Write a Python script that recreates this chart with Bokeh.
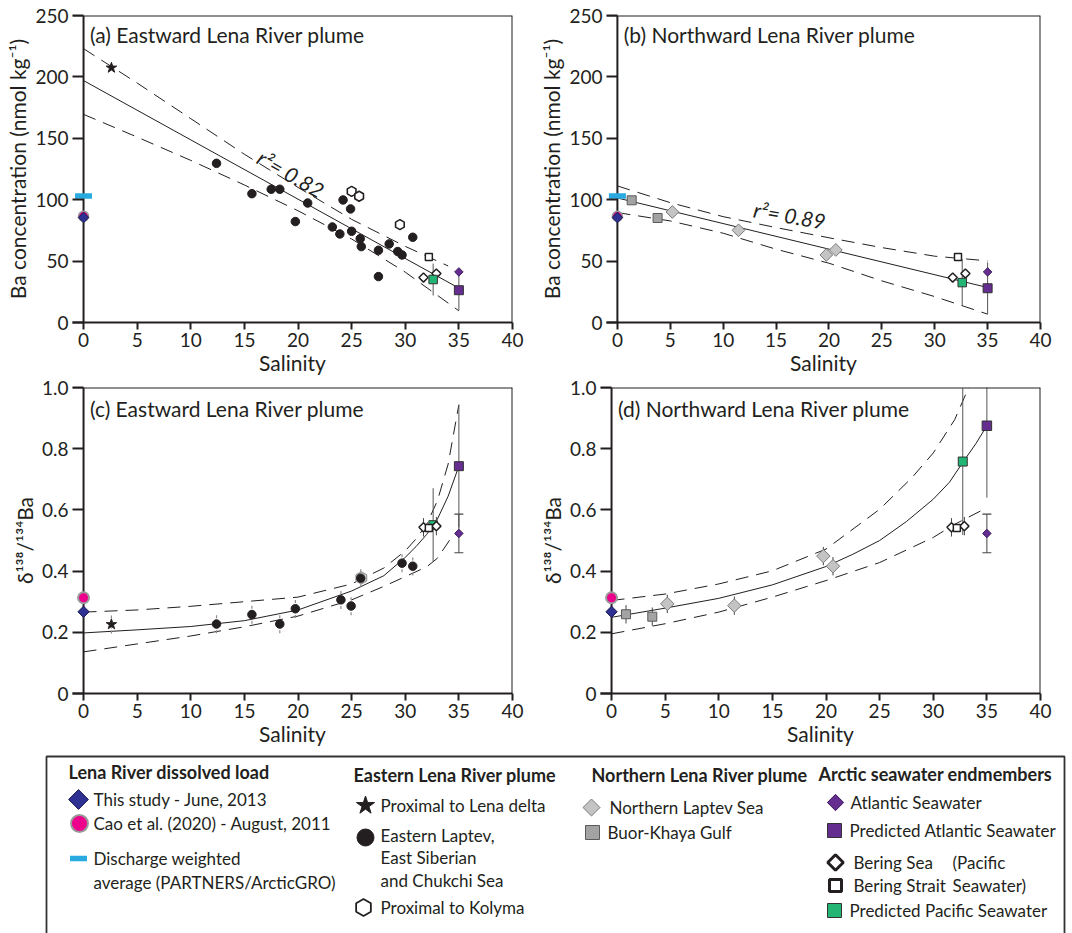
import numpy as np
from bokeh.plotting import figure
from bokeh.models import Range1d, Span, FixedTicker
from bokeh.layouts import column, row
from bokeh.embed import file_html
from bokeh.resources import INLINE
from bokeh.core.properties import value

FONT = "Lato"
INK = "#231f20"

# ---------------- data ----------------
salinity_ticks = [0, 5, 10, 15, 20, 25, 30, 35, 40]
ba_ticks = [0, 50, 100, 150, 200, 250]
delta_ticks = [0.0, 0.2, 0.4, 0.6, 0.8, 1.0]
delta_tick_labels = ["0", "0.2", "0.4", "0.6", "0.8", "1.0"]
panel_titles = ["(a) Eastward Lena River plume", "(b) Northward Lena River plume",
                "(c) Eastward Lena River plume", "(d) Northward Lena River plume"]
r2_labels = ["r\u00b2= 0.82", "r\u00b2= 0.89"]

# Lena River dissolved load (salinity 0)
lena_sal = [0.0]
lena_this_ba = [85.5]
lena_this_delta = [0.267]
lena_cao_ba = [86.5]
lena_cao_delta = [0.313]
lena_discharge_ba = [103.0]

# Eastern plume: proximal to Lena delta (star)
prox_lena_sal = [2.6]
prox_lena_ba = [207.4]
prox_lena_delta = [0.226]
prox_lena_delta_err = [0.03]

# Eastern Laptev, East Siberian and Chukchi Sea (filled circles)
east_ba_sal = [12.4, 15.7, 17.5, 18.3, 19.75, 20.9, 23.2, 23.9, 24.2, 24.9, 25.0,
               25.8, 25.9, 27.5, 27.5, 28.5, 29.3, 29.7, 30.7]
east_ba = [129.6, 104.9, 108.5, 108.5, 82.2, 97.3, 77.8, 72.1, 99.8, 92.5, 74.3,
           68.3, 61.8, 58.8, 37.4, 64.0, 57.8, 55.0, 69.4]
east_delta_sal = [12.4, 15.7, 18.3, 19.75, 24.0, 24.95, 25.85, 29.7, 30.7]
east_delta = [0.227, 0.258, 0.227, 0.277, 0.306, 0.286, 0.377, 0.426, 0.416]
east_delta_err = [0.03, 0.03, 0.03, 0.03, 0.03, 0.03, 0.03, 0.03, 0.03]

# Proximal to Kolyma (open hexagons)
kolyma_ba_sal = [25.0, 25.7, 29.5]
kolyma_ba = [106.8, 102.8, 79.7]
kolyma_delta_sal = [25.9]
kolyma_delta = [0.378]

# Northern plume
nlaptev_sal = [5.2, 11.45, 19.75, 20.65]
nlaptev_ba = [90.0, 75.1, 55.0, 59.1]
nlaptev_delta = [0.293, 0.287, 0.449, 0.416]
nlaptev_delta_err = [0.03, 0.03, 0.03, 0.03]
buor_sal = [1.35, 3.8]
buor_ba = [99.5, 85.1]
buor_delta = [0.259, 0.251]
buor_delta_err = [0.03, 0.03]

# Arctic seawater endmembers
bering_sea_sal = [31.7, 32.9]
bering_sea_ba = [36.6, 39.9]
bering_sea_delta = [0.543, 0.547]
bering_sea_delta_err = [0.03, 0.03]
bering_strait_sal = [32.2]
bering_strait_ba = [53.4]
bering_strait_delta = [0.541]
atlantic_sal = [35.0]
atlantic_ba = [41.2]
atlantic_delta = [0.523]
atlantic_delta_err = [0.063]

pred_pac_east_sal = [32.6]
pred_pac_east_ba = [35.0]
pred_pac_east_ba_err = [13.0]
pred_pac_east_delta = [0.551]
pred_pac_east_delta_err = [0.12]
pred_pac_north_sal = [32.6]
pred_pac_north_ba = [32.5]
pred_pac_north_ba_err = [19.0]
pred_pac_north_delta_sal = [32.75]
pred_pac_north_delta = [0.758]
pred_pac_north_delta_err = [0.24]

pred_atl_sal = [35.0]
pred_atl_east_ba = [26.3]
pred_atl_east_ba_err = [16.5]
pred_atl_east_delta = [0.743]
pred_atl_east_delta_err = [0.2]
pred_atl_north_ba = [27.9]
pred_atl_north_ba_err = [21.0]
pred_atl_north_delta = [0.875]
pred_atl_north_delta_err = [0.235]

# regression / mixing lines
a_fit_sal = [0, 35]
a_fit_ba = [197.0, 28.0]
a_hi_sal = [0, 5, 10, 15, 20, 25, 30, 34]
a_hi_ba = [223.0, 195.0, 166.0, 137.0, 110.0, 84.0, 62.0, 46.0]
a_lo_sal = [0, 5, 10, 15, 20, 25, 30, 35]
a_lo_ba = [169.5, 151.0, 132.0, 112.0, 91.0, 68.0, 41.0, 9.5]

b_fit_sal = [0, 35]
b_fit_ba = [101.4, 28.5]
b_band_sal = [0, 5, 10, 15, 20, 25, 30, 35]
b_hi_ba = [111.2, 97.6, 86.2, 77.3, 69.0, 61.0, 54.0, 50.2]
b_lo_ba = [89.5, 82.7, 72.7, 59.7, 48.3, 33.9, 21.1, 6.8]

c_fit_sal = [0, 5, 10, 15, 20, 25, 28, 30, 31, 32, 33, 34, 35]
c_fit_delta = [0.198, 0.208, 0.219, 0.238, 0.273, 0.335, 0.385, 0.445, 0.48, 0.52, 0.57, 0.645, 0.743]
c_hi_sal = [0, 5, 10, 15, 20, 25, 28, 30, 31, 32, 33, 34, 35]
c_hi_delta = [0.266, 0.273, 0.285, 0.300, 0.315, 0.358, 0.41, 0.466, 0.505, 0.553, 0.63, 0.75, 0.944]
c_lo_sal = [0, 5, 10, 15, 20, 25, 28, 30, 32, 33, 34.4]
c_lo_delta = [0.136, 0.162, 0.188, 0.218, 0.253, 0.306, 0.35, 0.382, 0.414, 0.442, 0.515]

d_fit_sal = [0, 5, 10, 15, 20, 22.5, 25, 27.5, 30, 31.5, 32.75, 34, 35]
d_fit_delta = [0.249, 0.279, 0.311, 0.355, 0.415, 0.455, 0.5, 0.562, 0.635, 0.69, 0.755, 0.818, 0.875]
d_hi_sal = [0, 5, 10, 15, 20, 25, 28, 30, 32, 33.3, 34.2]
d_hi_delta = [0.304, 0.325, 0.358, 0.401, 0.472, 0.602, 0.705, 0.786, 0.895, 1.0, 1.08]
d_lo_sal = [0, 5, 10, 15, 20, 25, 30, 32, 35]
d_lo_delta = [0.195, 0.228, 0.266, 0.315, 0.369, 0.428, 0.51, 0.553, 0.607]

# ---------------- styles ----------------
C_BLUE = "#2e3192"
C_PINK = "#ec008c"
C_CYAN = "#29abe2"
C_GRAY_D = "#c4c4c4"
C_GRAY_S = "#a3a3a3"
C_PURPLE = "#662d91"
C_GREEN = "#22b573"
DASH = "13 8"


def make_panel(width, left, right, height, top, bottom, y_end, y_ticks, y_label):
    p = figure(width=width, height=height, x_range=Range1d(-1.03, 40), y_range=Range1d(0, y_end),
               output_backend="svg", toolbar_location=None,
               min_border_left=left, min_border_right=right, min_border_top=top, min_border_bottom=bottom,
               x_axis_label="Salinity", y_axis_label=y_label)
    p.outline_line_color = None
    p.grid.visible = False
    p.background_fill_color = "white"
    xa = p.xaxis[0]
    xa.ticker = FixedTicker(ticks=salinity_ticks)
    xa.axis_line_width = 2
    xa.axis_line_color = INK
    xa.major_tick_line_width = 2
    xa.major_tick_line_color = INK
    xa.major_tick_out = 7
    xa.major_tick_in = 0
    xa.minor_tick_line_color = None
    ya = p.yaxis[0]
    ya.ticker = FixedTicker(ticks=y_ticks)
    ya.axis_line_color = None
    ya.major_tick_line_width = 2
    ya.major_tick_line_color = INK
    ya.major_tick_in = 11
    ya.major_tick_out = 0
    ya.minor_tick_line_color = None
    for ax in (xa, ya):
        ax.major_label_text_font = FONT
        ax.major_label_text_font_size = "19px"
        ax.major_label_text_color = INK
        ax.axis_label_text_font = FONT
        ax.axis_label_text_font_size = "21px"
        ax.axis_label_text_font_style = "normal"
        ax.axis_label_text_color = INK
    xa.major_label_standoff = 3
    xa.axis_label_standoff = 0
    ya.major_label_standoff = 4
    ya.axis_label_standoff = 2
    p.add_layout(Span(location=0, dimension="height", line_color=INK, line_width=2, level="underlay"))
    p.add_layout(Span(location=40, dimension="height", line_color=INK, line_width=2))
    p.add_layout(Span(location=y_end, dimension="width", line_color=INK, line_width=2))
    return p


def title(p, text, y):
    p.text(x=[0.6], y=[y], text=[text], text_font=value(FONT), text_font_size="21px",
           text_baseline="middle", text_align="left", text_color=INK)


def errbar(p, xs, ys, es, color="#555555", dash="solid", width=1, cap=0):
    p.segment(x0=xs, y0=[y - e for y, e in zip(ys, es)], x1=xs, y1=[y + e for y, e in zip(ys, es)],
              line_color=color, line_width=width, line_dash=dash)
    if cap:
        p.scatter(xs + xs, [y - e for y, e in zip(ys, es)] + [y + e for y, e in zip(ys, es)],
                  marker="dash", size=cap, line_color=color, line_width=1.2)


def diamond(p, xs, ys, size, fill, line, lw=1.0):
    p.scatter(xs, ys, marker="square", angle=np.pi / 4, size=size, fill_color=fill,
              line_color=line, line_width=lw)


def square(p, xs, ys, size, fill, line, lw=1.0):
    p.scatter(xs, ys, marker="square", size=size, fill_color=fill, line_color=line, line_width=lw)


def hexagon(p, xs, ys, size, line, lw):
    p.scatter(xs, ys, marker="hex", angle=np.pi / 6, size=size, fill_color="white",
              line_color=line, line_width=lw)


ba_label = "Ba concentration (nmol kg\u207b\u00b9)"
d_label = "\u03b4\u00b9\u00b3\u2078/\u00b9\u00b3\u2074Ba"

# ---------------- panel (a) ----------------
pa = make_panel(536, 72, 24, 377, 15, 55, 250, ba_ticks, ba_label)
pa.line(a_fit_sal, a_fit_ba, line_color=INK, line_width=1)
pa.line(a_hi_sal, a_hi_ba, line_color=INK, line_width=1, line_dash=DASH)
pa.line(a_lo_sal, a_lo_ba, line_color=INK, line_width=1, line_dash=DASH)
pa.rect(x=lena_sal, y=lena_discharge_ba, width=17, height=5.5, width_units="screen",
        height_units="screen", fill_color=C_CYAN, line_color=None)
pa.scatter(lena_sal, lena_cao_ba, marker="circle", size=10, fill_color=C_PINK, line_color="#9a9a9a", line_width=1.5)
diamond(pa, lena_sal, lena_this_ba, 7.5, C_BLUE, "#1b1b50")
pa.scatter(prox_lena_sal, prox_lena_ba, marker="star", size=11, fill_color=INK, line_color=INK)
pa.scatter(east_ba_sal, east_ba, marker="circle", size=8.5, fill_color=INK, line_color=INK)
hexagon(pa, kolyma_ba_sal, kolyma_ba, 10, INK, 1.6)
errbar(pa, pred_pac_east_sal, pred_pac_east_ba, pred_pac_east_ba_err)
errbar(pa, pred_atl_sal, pred_atl_east_ba, pred_atl_east_ba_err)
diamond(pa, bering_sea_sal, bering_sea_ba, 6.5, "white", INK, 1.5)
square(pa, bering_strait_sal, bering_strait_ba, 7, "white", INK, 1.5)
square(pa, pred_pac_east_sal, pred_pac_east_ba, 8.5, C_GREEN, "#333333")
diamond(pa, atlantic_sal, atlantic_ba, 6, C_PURPLE, "#3a1a58")
square(pa, pred_atl_sal, pred_atl_east_ba, 9, C_PURPLE, "#333333")
pa.text(x=[16.4], y=[136], text=[r2_labels[0]], angle=-0.52, text_font=value(FONT), text_font_size="21px",
        text_font_style="italic", text_baseline="middle", text_align="left", text_color=INK)
title(pa, panel_titles[0], 234.5)

# ---------------- panel (b) ----------------
pb = make_panel(536, 64, 32, 377, 15, 55, 250, ba_ticks, ba_label)
pb.line(b_fit_sal, b_fit_ba, line_color=INK, line_width=1)
pb.line(b_band_sal, b_hi_ba, line_color=INK, line_width=1, line_dash=DASH)
pb.line(b_band_sal, b_lo_ba, line_color=INK, line_width=1, line_dash=DASH)
pb.rect(x=lena_sal, y=lena_discharge_ba, width=17, height=5.5, width_units="screen",
        height_units="screen", fill_color=C_CYAN, line_color=None)
pb.scatter(lena_sal, lena_cao_ba, marker="circle", size=10, fill_color=C_PINK, line_color="#9a9a9a", line_width=1.5)
diamond(pb, lena_sal, lena_this_ba, 7.5, C_BLUE, "#1b1b50")
square(pb, buor_sal, buor_ba, 9, C_GRAY_S, "#5a5a5a")
diamond(pb, nlaptev_sal, nlaptev_ba, 9, C_GRAY_D, "#7a7a7a")
errbar(pb, pred_pac_north_sal, pred_pac_north_ba, pred_pac_north_ba_err)
errbar(pb, pred_atl_sal, pred_atl_north_ba, pred_atl_north_ba_err)
diamond(pb, bering_sea_sal, bering_sea_ba, 6.5, "white", INK, 1.5)
square(pb, bering_strait_sal, bering_strait_ba, 7, "white", INK, 1.5)
square(pb, pred_pac_north_sal, pred_pac_north_ba, 8.5, C_GREEN, "#333333")
diamond(pb, atlantic_sal, atlantic_ba, 6, C_PURPLE, "#3a1a58")
square(pb, pred_atl_sal, pred_atl_north_ba, 9, C_PURPLE, "#333333")
pb.text(x=[12.9], y=[92.5], text=[r2_labels[1]], angle=-0.17, text_font=value(FONT), text_font_size="21px",
        text_font_style="italic", text_baseline="middle", text_align="left", text_color=INK)
title(pb, panel_titles[1], 234.5)

# ---------------- panel (c) ----------------
pc = make_panel(536, 72, 24, 371, 10, 55, 1.0, delta_ticks, d_label)
pc.yaxis[0].major_label_overrides = dict(zip(delta_ticks, delta_tick_labels))
pc.line(c_fit_sal, c_fit_delta, line_color=INK, line_width=1)
pc.line(c_hi_sal, c_hi_delta, line_color=INK, line_width=1, line_dash=DASH)
pc.line(c_lo_sal, c_lo_delta, line_color=INK, line_width=1, line_dash=DASH)
pc.scatter(lena_sal, lena_cao_delta, marker="circle", size=11, fill_color=C_PINK, line_color="#9a9a9a", line_width=2)
diamond(pc, lena_sal, lena_this_delta, 8, C_BLUE, "#1b1b50")
errbar(pc, prox_lena_sal, prox_lena_delta, prox_lena_delta_err, "#8a8a8a", "3 2", 1.2)
pc.scatter(prox_lena_sal, prox_lena_delta, marker="star", size=11, fill_color=INK, line_color=INK)
errbar(pc, east_delta_sal, east_delta, east_delta_err, "#8a8a8a", "3 2", 1.2)
hexagon(pc, kolyma_delta_sal, kolyma_delta, 12, "#9a9a9a", 1.5)
pc.scatter(east_delta_sal, east_delta, marker="circle", size=8.5, fill_color=INK, line_color=INK)
errbar(pc, pred_pac_east_sal, pred_pac_east_delta, pred_pac_east_delta_err)
errbar(pc, pred_atl_sal, pred_atl_east_delta, pred_atl_east_delta_err)
errbar(pc, atlantic_sal, atlantic_delta, atlantic_delta_err, "#444444", "solid", 1, 9)
square(pc, pred_pac_east_sal, pred_pac_east_delta, 8.5, C_GREEN, "#333333")
errbar(pc, bering_sea_sal, bering_sea_delta, bering_sea_delta_err, "#444444")
diamond(pc, bering_sea_sal, bering_sea_delta, 6.5, "white", INK, 1.5)
square(pc, bering_strait_sal, bering_strait_delta, 7, "white", INK, 1.5)
diamond(pc, atlantic_sal, atlantic_delta, 6, C_PURPLE, "#3a1a58")
square(pc, pred_atl_sal, pred_atl_east_delta, 9, C_PURPLE, "#333333")
title(pc, panel_titles[2], 0.932)

# ---------------- panel (d) ----------------
pd = make_panel(536, 64, 32, 371, 10, 55, 1.0, delta_ticks, d_label)
pd.yaxis[0].major_label_overrides = dict(zip(delta_ticks, delta_tick_labels))
pd.line(d_fit_sal, d_fit_delta, line_color=INK, line_width=1)
pd.line(d_hi_sal, d_hi_delta, line_color=INK, line_width=1, line_dash=DASH)
pd.line(d_lo_sal, d_lo_delta, line_color=INK, line_width=1, line_dash=DASH)
pd.scatter(lena_sal, lena_cao_delta, marker="circle", size=11, fill_color=C_PINK, line_color="#9a9a9a", line_width=2)
diamond(pd, lena_sal, lena_this_delta, 8, C_BLUE, "#1b1b50")
errbar(pd, buor_sal, buor_delta, buor_delta_err, "#444444")
square(pd, buor_sal, buor_delta, 9, C_GRAY_S, "#5a5a5a")
errbar(pd, nlaptev_sal, nlaptev_delta, nlaptev_delta_err, "#444444")
diamond(pd, nlaptev_sal, nlaptev_delta, 9.5, C_GRAY_D, "#7a7a7a")
errbar(pd, pred_pac_north_delta_sal, pred_pac_north_delta, pred_pac_north_delta_err)
errbar(pd, pred_atl_sal, pred_atl_north_delta, pred_atl_north_delta_err)
errbar(pd, atlantic_sal, atlantic_delta, atlantic_delta_err, "#444444", "solid", 1, 9)
errbar(pd, bering_sea_sal, bering_sea_delta, bering_sea_delta_err, "#444444")
diamond(pd, bering_sea_sal, bering_sea_delta, 6.5, "white", INK, 1.5)
square(pd, bering_strait_sal, bering_strait_delta, 7, "white", INK, 1.5)
square(pd, pred_pac_north_delta_sal, pred_pac_north_delta, 9, C_GREEN, "#333333")
diamond(pd, atlantic_sal, atlantic_delta, 6, C_PURPLE, "#3a1a58")
square(pd, pred_atl_sal, pred_atl_north_delta, 9.5, C_PURPLE, "#333333")
title(pd, panel_titles[3], 0.932)

# ---------------- legend ----------------
leg = figure(width=1072, height=185, x_range=Range1d(0, 1072), y_range=Range1d(185, 0),
             output_backend="svg", toolbar_location=None, x_axis_type=None, y_axis_type=None,
             min_border=0)
leg.outline_line_color = None
leg.grid.visible = False
leg.line([46, 46, 1064, 1064], [195, 8, 8, 195], line_color="#333333", line_width=1.8)

headers = [(68, 23, "Lena River dissolved load"), (353, 26, "Eastern Lena River plume"),
           (591, 26, "Northern Lena River plume"), (818, 25, "Arctic seawater endmembers")]
leg.text(x=[h[0] for h in headers], y=[h[1] for h in headers], text=[h[2] for h in headers],
         text_font=value(FONT), text_font_size="18px", text_font_style="bold",
         text_baseline="middle", text_align="left", text_color=INK)
entries = [(93, 51, "This study - June, 2013"), (93, 75, "Cao et al. (2020) - August, 2011"),
           (93, 110, "Discharge weighted"), (93, 134, "average (PARTNERS/ArcticGRO)"),
           (380, 57, "Proximal to Lena delta"), (380, 87, "Eastern Laptev,"),
           (380, 109, "East Siberian"), (380, 132, "and Chukchi Sea"), (380, 159, "Proximal to Kolyma"),
           (609, 59, "Northern Laptev Sea"), (607, 84, "Buor-Khaya Gulf"),
           (850, 54, "Atlantic Seawater"), (849, 82, "Predicted Atlantic Seawater"),
           (853, 114, "Bering Sea"), (952, 114, "(Pacific"), (853, 137, "Bering Strait"),
           (952, 137, "Seawater)"), (849, 162, "Predicted Pacific Seawater")]
leg.text(x=[e[0] for e in entries], y=[e[1] for e in entries], text=[e[2] for e in entries],
         text_font=value(FONT), text_font_size="17px", text_baseline="middle", text_align="left",
         text_color=INK)
diamond(leg, [78], [51], 14, C_BLUE, "#1b1b50")
leg.scatter([79], [75], marker="circle", size=17, fill_color=C_PINK, line_color="#9a9a9a", line_width=2)
leg.rect(x=[78], y=[110], width=17, height=5.5, fill_color=C_CYAN, line_color=None)
leg.scatter([365], [57], marker="star", size=19, fill_color=INK, line_color=INK)
leg.scatter([365], [89], marker="circle", size=17, fill_color=INK, line_color=INK)
hexagon(leg, [363], [159], 17, INK, 1.8)
diamond(leg, [591], [59], 12, C_GRAY_D, "#7a7a7a")
square(leg, [592], [84], 14, C_GRAY_S, "#5a5a5a")
diamond(leg, [835], [54], 11.5, C_PURPLE, "#3a1a58")
square(leg, [834], [82], 14, C_PURPLE, "#333333")
diamond(leg, [835], [114], 11, "white", INK, 3)
square(leg, [835], [137], 12, "white", INK, 3)
square(leg, [834], [162], 14, C_GREEN, "#333333")

layout = column(row(pa, pb), row(pc, pd), leg)
open("out.html", "w").write(file_html(layout, INLINE))
